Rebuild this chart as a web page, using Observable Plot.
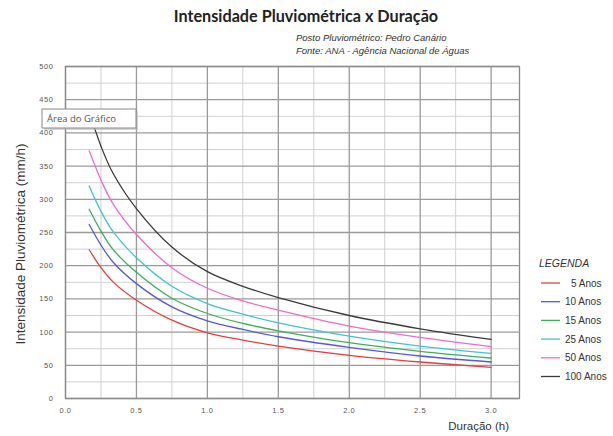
<!DOCTYPE html>
<html>
<head>
<meta charset="utf-8">
<script src="https://cdn.jsdelivr.net/npm/d3@7"></script>
<script src="https://cdn.jsdelivr.net/npm/@observablehq/plot@0.6"></script>
<style>
  html, body { margin: 0; padding: 0; background: #fff; }
  #chart { position: relative; width: 613px; height: 436px; }
</style>
</head>
<body>
<div id="chart"></div>
<script>
// Duration (h)
const durations = [0.167, 0.25, 0.333, 0.5, 0.75, 1.0, 1.25, 1.5, 2.0, 2.5, 3.0];
// Intensity (mm/h) per return period
const i5   = [224, 197, 176, 148, 118,  99,  88,  79,  65,  55,  47];
const i10  = [262, 231, 206, 173, 138, 117, 104,  93,  77,  64,  55];
const i15  = [285, 252, 225, 190, 151, 128, 113, 102,  84,  71,  61];
const i25  = [320, 282, 252, 212, 169, 143, 127, 114,  94,  79,  68];
const i50  = [373, 329, 294, 247, 197, 166, 147, 133, 109,  92,  78];
const i100 = [432, 380, 340, 286, 228, 191, 169, 152, 125, 105,  89];

const seriesNames = ["5 Anos", "10 Anos", "15 Anos", "25 Anos", "50 Anos", "100 Anos"];
const seriesValues = [i5, i10, i15, i25, i50, i100];
const seriesColors = ["#e0403f", "#5858d8", "#3caf5c", "#3cc4d4", "#ee6ccc", "#3a3a3a"];

const xTicks = [0, 0.5, 1.0, 1.5, 2.0, 2.5, 3.0];
const xMinor = [0.25, 0.75, 1.25, 1.75, 2.25, 2.75];
const yTicks = [0, 50, 100, 150, 200, 250, 300, 350, 400, 450, 500];
const yMinor = [25, 75, 125, 175, 225, 275, 325, 375, 425, 475];

const rows = [];
seriesNames.forEach((name, s) => {
  durations.forEach((t, i) => rows.push({series: name, t, v: seriesValues[s][i]}));
});

const plot = Plot.plot({
  width: 613,
  height: 436,
  marginLeft: 65,
  marginRight: 94,
  marginTop: 66,
  marginBottom: 38,
  style: {fontFamily: "Liberation Sans, Arial, sans-serif", background: "#fff"},
  x: {domain: [0, 3.2], label: null},
  y: {domain: [0, 500], label: null},
  color: {domain: seriesNames, range: seriesColors},
  marks: [
    Plot.gridX(xMinor, {stroke: "#d0d0d0", strokeOpacity: 1, strokeWidth: 1}),
    Plot.gridY(yMinor, {stroke: "#d0d0d0", strokeOpacity: 1, strokeWidth: 1}),
    Plot.gridX(xTicks, {stroke: "#9a9a9a", strokeOpacity: 1, strokeWidth: 1.3}),
    Plot.gridY(yTicks, {stroke: "#9a9a9a", strokeOpacity: 1, strokeWidth: 1.3}),
    Plot.frame({stroke: "#8a8a8a", strokeWidth: 1.3}),
    Plot.axisX({ticks: xTicks, tickSize: 0, tickPadding: 9, fontSize: 7.5, fill: "#555", tickFormat: d3.format(".1f")}),
    Plot.axisY({ticks: yTicks, tickSize: 0, tickPadding: 12, fontSize: 7.5, fill: "#555"}),
    Plot.line(rows, {x: "t", y: "v", z: "series", stroke: "series", strokeWidth: 1.3, curve: "catmull-rom"})
  ]
});

document.getElementById("chart").appendChild(plot);

const svg = d3.select(plot);
const ff = "Liberation Sans, Arial, sans-serif";

svg.selectAll("g[aria-label='x-axis tick label'] text, g[aria-label='y-axis tick label'] text")
  .attr("letter-spacing", "0.6px");

svg.append("text")
  .attr("x", 306).attr("y", 22)
  .attr("text-anchor", "middle")
  .attr("font-family", "Lato, Open Sans, sans-serif")
  .attr("font-weight", "bold")
  .attr("font-size", 16.2)
  .attr("fill", "#222")
  .text("Intensidade Pluviométrica x Duração");

svg.append("text")
  .attr("x", 296).attr("y", 41)
  .attr("text-anchor", "start")
  .attr("font-family", ff).attr("font-style", "italic")
  .attr("font-size", 9.5).attr("fill", "#333")
  .text("Posto Pluviométrico: Pedro Canário");
svg.append("text")
  .attr("x", 296).attr("y", 54)
  .attr("text-anchor", "start")
  .attr("font-family", ff).attr("font-style", "italic")
  .attr("font-size", 9.5).attr("fill", "#333")
  .text("Fonte: ANA - Agência Nacional de Águas");

svg.append("text")
  .attr("transform", "translate(25,244) rotate(-90)")
  .attr("text-anchor", "middle")
  .attr("font-family", ff)
  .attr("font-size", 13.5).attr("fill", "#333")
  .text("Intensidade Pluviométrica (mm/h)");

svg.append("text")
  .attr("x", 509).attr("y", 430)
  .attr("text-anchor", "end")
  .attr("font-family", ff)
  .attr("font-size", 11.5).attr("fill", "#333")
  .text("Duração (h)");

// Legend
svg.append("text")
  .attr("x", 539).attr("y", 267)
  .attr("text-anchor", "start")
  .attr("font-family", ff).attr("font-style", "italic")
  .attr("font-size", 10.5).attr("fill", "#333")
  .text("LEGENDA");
seriesNames.forEach((name, i) => {
  const y = 283 + i * 18.7;
  svg.append("line")
    .attr("x1", 541).attr("x2", 560).attr("y1", y).attr("y2", y)
    .attr("stroke", seriesColors[i]).attr("stroke-width", 1.3);
  svg.append("text")
    .attr("x", 565 + (i === 0 ? 6 : 0)).attr("y", y + 3.5)
    .attr("text-anchor", "start")
    .attr("font-family", ff)
    .attr("font-size", 10).attr("fill", "#333")
    .text(name);
});

// Excel tooltip "Área do Gráfico"
const tip = svg.append("g");
tip.append("rect")
  .attr("x", 44).attr("y", 111).attr("width", 94).attr("height", 19)
  .attr("fill", "#bbb").attr("opacity", 0.6);
tip.append("rect")
  .attr("x", 42).attr("y", 109).attr("width", 94).attr("height", 19)
  .attr("fill", "#fff").attr("stroke", "#888").attr("stroke-width", 1);
tip.append("text")
  .attr("x", 47).attr("y", 122)
  .attr("text-anchor", "start")
  .attr("font-family", "Open Sans, sans-serif")
  .attr("font-size", 9.5).attr("fill", "#555")
  .text("Área do Gráfico");
</script>
</body>
</html>
